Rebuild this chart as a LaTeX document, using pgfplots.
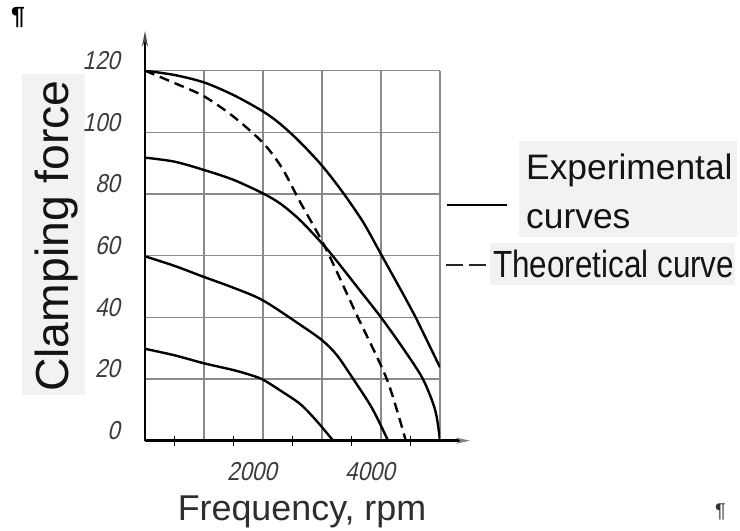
\documentclass[border=0pt]{standalone}
\usepackage{pgfplots}
\pgfplotsset{compat=1.18}
\usepackage{fontspec}
\setmainfont{Liberation Sans}
\newfontfamily\tickfont{Liberation Sans}[FakeSlant=0.22, FakeStretch=0.86]
\usetikzlibrary{arrows.meta}
\definecolor{gridgray}{HTML}{8A8A8A}
\definecolor{boxgray}{HTML}{F2F2F2}
\definecolor{tickgray}{HTML}{3A3A3A}
\begin{document}
\begin{tikzpicture}
\useasboundingbox (0bp,0bp) rectangle (740bp,531bp);
% y label
\fill[boxgray] (22bp,136bp) rectangle (85bp,457bp);
\node[rotate=90, inner sep=0pt, font=\fontsize{46.5}{50}\selectfont, text=black!92] at (57bp,295bp) {Clamping force};
% x label
\node[anchor=base, inner sep=0pt, font=\fontsize{36}{40}\selectfont, text=black!82] at (302bp,11bp) {Frequency, rpm};
% legend
\draw[line width=2.2bp, black] (447bp,326bp) -- (507bp,326bp);
\fill[boxgray] (519bp,294bp) rectangle (737bp,390bp);
\node[anchor=base west, inner sep=0pt, font=\fontsize{35.5}{40}\selectfont, text=black!92] at (526bp,351bp) {Experimental};
\node[anchor=base west, inner sep=0pt, font=\fontsize{35.5}{40}\selectfont, text=black!92] at (526bp,302bp) {curves};
\draw[line width=2.3bp, black!85, dash pattern=on 17bp off 6bp] (446bp,266bp) -- (486bp,266bp);
\fill[boxgray] (490bp,246bp) rectangle (735bp,288bp);
\node[anchor=base west, inner sep=0pt, font=\fontsize{38}{40}\selectfont, text=black!92] at (493bp,253bp) {\scalebox{0.83}[1]{Theoretical curve}};
% pilcrows
\node[anchor=north west, inner sep=0pt, font=\fontsize{25}{27}\selectfont\bfseries] at (11bp,524bp) {¶};
\node[anchor=north west, inner sep=0pt, font=\fontsize{20}{22}\selectfont, text=black!80] at (715bp,27bp) {¶};
\begin{axis}[
  at={(145bp,90.3bp)}, anchor=south west, scale only axis,
  width=295bp, height=370bp,
  xmin=0, xmax=5000, ymin=0, ymax=120,
  axis lines=left, enlargelimits=false,
  axis line style={line width=2.4bp, black},
  x axis line style={-{Stealth[open,length=14bp,width=6bp,fill=gray!50,color=gray]}, shorten >=-30bp},
  y axis line style={-{Stealth[open,length=16bp,width=6bp,fill=gray!50,color=black!70]}, shorten >=-40bp},
  xtick={1000,2000,3000,4000,5000},
  xticklabels={,2000,,4000,},
  minor xtick={500,1500,2500,3500,4500},
  ytick={0,20,40,60,80,100,120},
  yticklabels={0,20,40,60,80,100,120},
  major tick length=0pt, minor tick length=10bp, tick align=center,
  tick style={black, line width=1.5bp},
  grid=major, major grid style={gridgray, line width=1.4bp},
  tick label style={font=\fontsize{26}{28}\tickfont, text=tickgray},
  xticklabel style={anchor=north, inner sep=0pt, yshift=-22bp, xshift=-11bp},
  yticklabel style={anchor=east, inner sep=0pt, xshift=-25bp, yshift=10bp},
  scaled ticks=false,
]
\addplot[smooth, line width=2.4bp, black] coordinates {
 (0,120) (500,118.6) (1000,116.2) (1500,112.1) (2000,106.8) (2300,102.6) (2630,96.8) (3000,89.2) (3350,80.6) (3700,70.8) (4000,60.5) (4420,46) (4580,40.3) (5000,23.8)};
\addplot[smooth, line width=2.4bp, black] coordinates {
 (0,91.8) (500,90.5) (1000,87.8) (1500,84.6) (2000,80.2) (2300,76.8) (2630,71.5) (3000,64) (3200,59.5) (3640,48.8) (4000,40) (4380,29.8) (4710,20) (4920,9.8) (5000,0)};
\addplot[smooth, line width=2.4bp, black] coordinates {
 (0,59.8) (500,56.7) (1000,53.1) (1500,49.6) (2000,45.5) (2630,37.6) (3000,32.6) (3250,27.8) (3530,20) (3850,10.5) (4120,0)};
\addplot[smooth, line width=2.4bp, black] coordinates {
 (0,29.8) (500,27.7) (1000,25.1) (1500,22.9) (1790,21.3) (2000,19.8) (2300,16.2) (2630,11.9) (2900,6.6) (3190,0)};
\addplot[smooth, line width=2.4bp, black, dash pattern=on 10bp off 6bp] coordinates {
 (0,120) (500,116) (1000,111.7) (1500,105.1) (2000,96.6) (2320,88.5) (2630,77.4) (3050,62.9) (3470,45.7) (3610,39.9) (4100,19.9) (4420,0)};
\end{axis}
\end{tikzpicture}
\end{document}
